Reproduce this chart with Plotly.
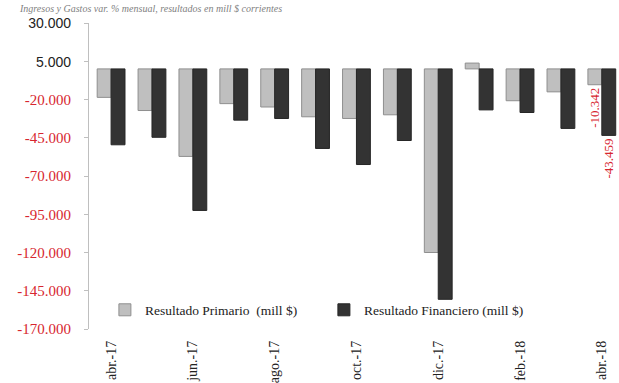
import plotly.graph_objects as go

# Monthly results, millions of pesos
meses = ["abr.-17", "may.-17", "jun.-17", "jul.-17", "ago.-17", "sep.-17", "oct.-17",
         "nov.-17", "dic.-17", "ene.-18", "feb.-18", "mar.-18", "abr.-18"]
resultado_primario = [-18600, -27200, -57200, -22700, -24900, -31300, -32400,
                      -30000, -120000, 3800, -20800, -15000, -10342]
resultado_financiero = [-49600, -44700, -92500, -33500, -32400, -52000, -62500,
                        -46800, -150600, -26800, -28500, -38900, -43459]
y_ticks = [30000, 5000, -20000, -45000, -70000, -95000, -120000, -145000, -170000]

titulo = "Ingresos y Gastos var. % mensual, resultados en mill $ corrientes"
RED = "#d7262f"
SERIF = "Liberation Serif"


def fmt_miles(v):
    """Spanish number style: dot as thousands separator."""
    s = f"{abs(int(v)):,}".replace(",", ".")
    return ("-" if v < 0 else "") + s


def tick_label(v):
    if v >= 0:
        return f"<span style='font-family:Liberation Sans;font-size:14px;fill:#222'>{fmt_miles(v)}</span>"
    return fmt_miles(v)


# only the latest month carries a value label
texto_prim = [""] * (len(meses) - 1) + [fmt_miles(resultado_primario[-1])]
texto_fin = [""] * (len(meses) - 1) + [fmt_miles(resultado_financiero[-1])]

fig = go.Figure()
fig.add_trace(go.Bar(
    x=meses, y=resultado_primario, name="Resultado Primario  (mill $)",
    marker=dict(color="#bfbfbf", line=dict(color="#8f8f8f", width=1)),
    text=texto_prim, textposition="outside", textangle=-90, constraintext="none",
    textfont=dict(family=SERIF, size=13, color=RED), cliponaxis=False,
))
fig.add_trace(go.Bar(
    x=meses, y=resultado_financiero, name="Resultado Financiero (mill $)",
    marker=dict(color="#333333", line=dict(color="#262626", width=1)),
    text=texto_fin, textposition="outside", textangle=-90, constraintext="none",
    textfont=dict(family=SERIF, size=13, color=RED), cliponaxis=False,
))

fig.update_layout(
    width=619, height=383,
    margin=dict(l=89, r=0, t=23, b=50),
    paper_bgcolor="white", plot_bgcolor="white",
    barmode="group", bargap=0.32, bargroupgap=0,
    showlegend=True,
    legend=dict(orientation="h", x=0.03, y=0.062, xanchor="left", yanchor="middle",
                bgcolor="rgba(0,0,0,0)", font=dict(family=SERIF, size=13.5, color="#222"),
                entrywidth=174, traceorder="normal"),
    annotations=[dict(text=f"<i>{titulo}</i>", xref="paper", yref="paper", x=-0.136, y=1.024,
                      xanchor="left", yanchor="bottom", showarrow=False,
                      font=dict(family=SERIF, size=10, color="#7f7f7f"))],
)
fig.update_xaxes(
    type="category", range=[-0.54, 12.42],
    tickmode="array", tickvals=meses[::2], ticktext=meses[::2],
    tickangle=-90, tickfont=dict(family=SERIF, size=14, color="#222"),
    showline=False, ticks="", showgrid=False, ticklabelstandoff=8,
)
fig.update_yaxes(
    range=[-170000, 30000],
    tickmode="array", tickvals=y_ticks, ticktext=[tick_label(v) for v in y_ticks],
    tickfont=dict(family=SERIF, size=15, color=RED), ticklabelstandoff=10,
    showline=True, linecolor="#bfbfbf", linewidth=1,
    ticks="outside", ticklen=4, tickcolor="#bfbfbf",
    showgrid=False, zeroline=False,
)

fig.write_html("out.html")
